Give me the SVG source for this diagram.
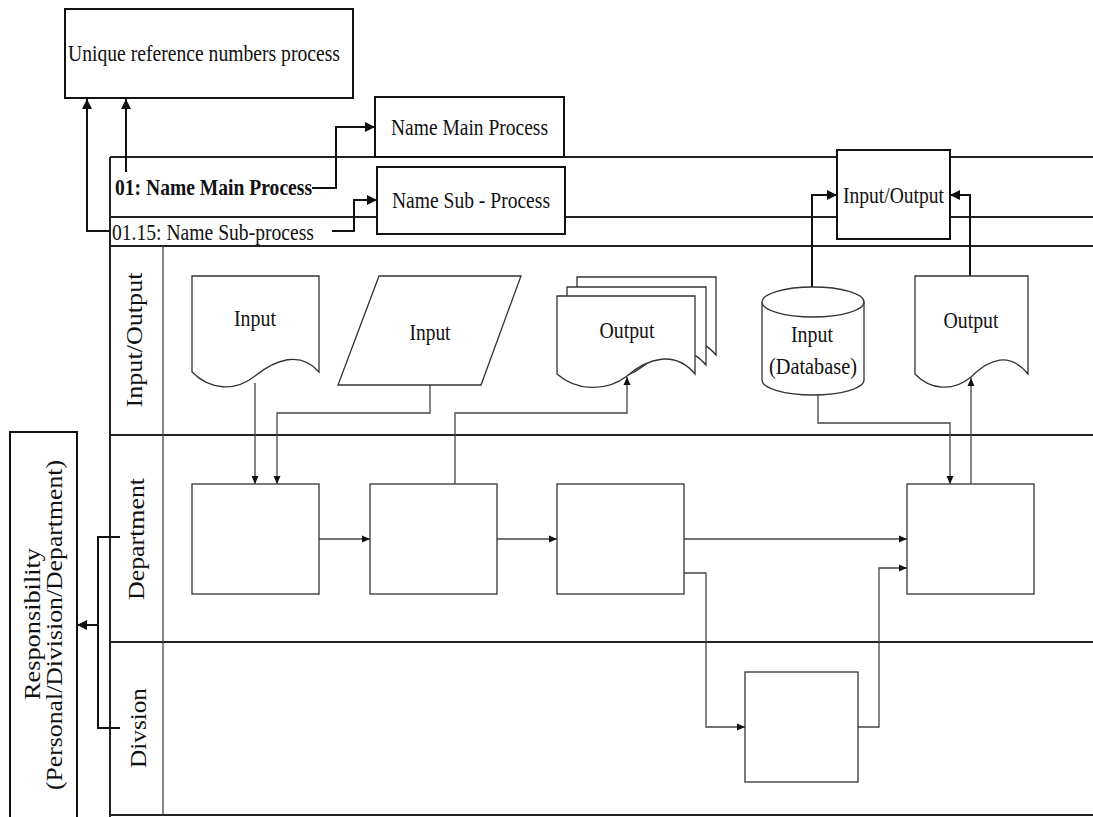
<svg xmlns="http://www.w3.org/2000/svg" width="1093" height="817" viewBox="0 0 1093 817">
<style>
.t{font-family:"Liberation Serif","Times New Roman",serif;font-size:23px;fill:#111}
.b{font-weight:bold}
.frame{fill:none;stroke:#222;stroke-width:2}
.box{fill:#fff;stroke:#111;stroke-width:2}
.shape{fill:#fff;stroke:#333;stroke-width:1.3}
.c{fill:none;stroke:#444;stroke-width:1.3}
.ck{fill:none;stroke:#111;stroke-width:2}
</style>
<defs>
<marker id="ak" markerUnits="userSpaceOnUse" markerWidth="11" markerHeight="10" refX="10" refY="5" orient="auto"><path d="M0,0L10,5L0,10Z" fill="#111"/></marker>
<marker id="as" markerUnits="userSpaceOnUse" markerWidth="9" markerHeight="8" refX="8" refY="4" orient="auto"><path d="M0,0.5L8,4L0,7.5Z" fill="#111"/></marker>
</defs>
<rect width="1093" height="817" fill="#fff"/>

<!-- swimlane frame -->
<g id="frame">
<path class="frame" d="M110,157V817M110,157H1093M110,217H1093M110,246H1093M110,435H1093M110,642H1093M110,815H1093"/>
<path class="c" d="M163,246V815"/>
<text class="t b" x="115" y="195" textLength="197" lengthAdjust="spacingAndGlyphs">01: Name Main Process</text>
<text class="t" x="112" y="240" textLength="202" lengthAdjust="spacingAndGlyphs">01.15: Name Sub-process</text>
<text class="t" transform="translate(142,340) rotate(-90)" text-anchor="middle" textLength="135" lengthAdjust="spacingAndGlyphs">Input/Output</text>
<text class="t" transform="translate(144,539) rotate(-90)" text-anchor="middle" textLength="122" lengthAdjust="spacingAndGlyphs">Department</text>
<text class="t" transform="translate(146,728) rotate(-90)" text-anchor="middle" textLength="80" lengthAdjust="spacingAndGlyphs">Divsion</text>
</g>

<!-- connectors -->
<g id="connectors">
<path class="ck" d="M110,231H87V99" marker-end="url(#ak)"/>
<path class="ck" d="M126,172V99" marker-end="url(#ak)"/>
<path class="ck" d="M312,188H336V127H375" marker-end="url(#ak)"/>
<path class="ck" d="M332,231H354V200H377" marker-end="url(#ak)"/>
<path class="ck" d="M812,287V195H837" marker-end="url(#ak)"/>
<path class="ck" d="M970,276V195H950" marker-end="url(#ak)"/>
<path class="ck" d="M120,537H98V728H120"/>
<path class="ck" d="M98,625H77" marker-end="url(#ak)"/>
<path class="c" d="M255,383V484" marker-end="url(#as)"/>
<path class="c" d="M430,385V413H277V484" marker-end="url(#as)"/>
<path class="c" d="M455,484V413H627V377" marker-end="url(#as)"/>
<path class="c" d="M818,395V423H950V484" marker-end="url(#as)"/>
<path class="c" d="M971,484V378" marker-end="url(#as)"/>
<path class="c" d="M319,539H370" marker-end="url(#as)"/>
<path class="c" d="M497,539H557" marker-end="url(#as)"/>
<path class="c" d="M684,539H907" marker-end="url(#as)"/>
<path class="c" d="M684,573H706V727H745" marker-end="url(#as)"/>
<path class="c" d="M858,727H879V568H907" marker-end="url(#as)"/>
</g>

<!-- header nodes -->
<g id="ref-numbers">
<rect class="box" x="65" y="9" width="288" height="89"/>
<text class="t" x="68" y="61" textLength="272" lengthAdjust="spacingAndGlyphs">Unique reference numbers process</text>
</g>
<g id="main-process">
<rect class="box" x="375" y="97" width="189" height="60"/>
<text class="t" x="391" y="135" textLength="157" lengthAdjust="spacingAndGlyphs">Name Main Process</text>
</g>
<g id="sub-process">
<rect class="box" x="377" y="167" width="188" height="67"/>
<text class="t" x="392" y="208" textLength="158" lengthAdjust="spacingAndGlyphs">Name Sub - Process</text>
</g>
<g id="io-header">
<rect class="box" x="837" y="150" width="113" height="89"/>
<text class="t" x="843" y="203" textLength="101" lengthAdjust="spacingAndGlyphs">Input/Output</text>
</g>
<g id="responsibility">
<rect class="box" x="10" y="432" width="67" height="400"/>
<text class="t" transform="translate(40,624) rotate(-90)" text-anchor="middle" textLength="152" lengthAdjust="spacingAndGlyphs">Responsibility</text>
<text class="t" transform="translate(62,625) rotate(-90)" text-anchor="middle" textLength="330" lengthAdjust="spacingAndGlyphs">(Personal/Division/Department)</text>
</g>

<!-- input/output lane -->
<g id="doc-input">
<path class="shape" d="M192,372V276H319V372C300,350 275,360 255,376C235,392 210,390 192,372Z"/>
<text class="t" x="255" y="326" text-anchor="middle" textLength="42" lengthAdjust="spacingAndGlyphs">Input</text>
</g>
<g id="data-input">
<path class="shape" d="M379,276H521L481,385H338Z"/>
<text class="t" x="430" y="340" text-anchor="middle" textLength="41" lengthAdjust="spacingAndGlyphs">Input</text>
</g>
<g id="multi-output">
<path class="shape" d="M577,355V277H716V355C698,333 672,341 652,357C632,373 600,371 577,355Z"/>
<path class="shape" d="M567,365V287H706V365C688,343 662,351 642,367C622,383 590,381 567,365Z"/>
<path class="shape" d="M557,374V296H695V374C675,350 648,358 627,376C605,393 575,390 557,374Z"/>
<text class="t" x="627" y="338" text-anchor="middle" textLength="55" lengthAdjust="spacingAndGlyphs">Output</text>
</g>
<g id="database">
<path class="shape" d="M762,302A51,15 0 0,1 864,302V380A51,15 0 0,1 762,380Z"/>
<path class="shape" d="M762,302A51,15 0 0,0 864,302" fill="none"/>
<text class="t" x="812" y="342" text-anchor="middle" textLength="42" lengthAdjust="spacingAndGlyphs">Input</text>
<text class="t" x="813" y="374" text-anchor="middle" textLength="88" lengthAdjust="spacingAndGlyphs">(Database)</text>
</g>
<g id="doc-output">
<path class="shape" d="M915,374V276H1028V374C1010,352 990,358 971,377C953,392 930,390 915,374Z"/>
<text class="t" x="971" y="328" text-anchor="middle" textLength="55" lengthAdjust="spacingAndGlyphs">Output</text>
</g>

<!-- department lane -->
<g id="step-1"><rect class="shape" x="192" y="484" width="127" height="110"/></g>
<g id="step-2"><rect class="shape" x="370" y="484" width="127" height="110"/></g>
<g id="step-3"><rect class="shape" x="557" y="484" width="127" height="110"/></g>
<g id="step-4"><rect class="shape" x="907" y="484" width="127" height="110"/></g>

<!-- division lane -->
<g id="step-5"><rect class="shape" x="745" y="672" width="113" height="110"/></g>
</svg>
